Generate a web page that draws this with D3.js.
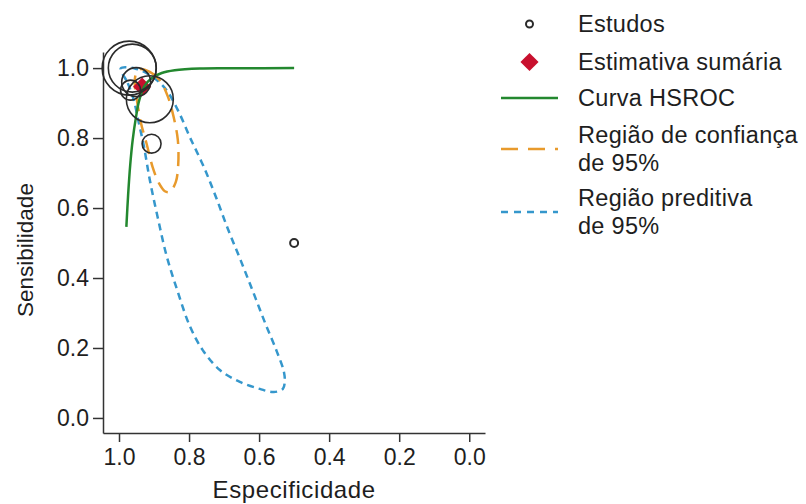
<!DOCTYPE html>
<html>
<head>
<meta charset="utf-8">
<script src="https://cdn.jsdelivr.net/npm/d3@7"></script>
<style>
  html, body { margin: 0; padding: 0; background: #ffffff; }
  svg { display: block; }
  text { font-family: "Liberation Sans", Arial, Helvetica, sans-serif; fill: #1e1e1e; }
</style>
</head>
<body>
<svg id="chart" width="806" height="504"></svg>
<script>
// Axis ticks
const specTicks = [1.0, 0.8, 0.6, 0.4, 0.2, 0.0];
const sensTicks = [0.0, 0.2, 0.4, 0.6, 0.8, 1.0];

// Individual studies (specificity, sensitivity, sample size)
const studySpec = [0.971, 0.962, 0.951, 0.967, 0.912, 0.907, 0.500];
const studySens = [1.000, 1.000, 0.960, 0.937, 0.911, 0.784, 0.500];
const studyN    = [365, 288, 105, 50, 276, 45, 8];

// Summary estimate
const summarySpec = 0.934;
const summarySens = 0.947;

// HSROC curve
const hsrocSpec = [0.979, 0.974, 0.968, 0.961, 0.952, 0.942, 0.927, 0.907, 0.878, 0.841, 0.769, 0.655, 0.500];
const hsrocSens = [0.546, 0.637, 0.723, 0.794, 0.857, 0.909, 0.949, 0.971, 0.986, 0.994, 0.999, 0.9995, 1.000];

// 95% confidence region
const confSpec = [0.941, 0.912, 0.884, 0.861, 0.844, 0.832, 0.831, 0.838, 0.855, 0.869, 0.886, 0.904, 0.921, 0.938, 0.949, 0.955, 0.952];
const confSens = [0.997, 0.989, 0.966, 0.920, 0.860, 0.794, 0.723, 0.674, 0.646, 0.648, 0.671, 0.717, 0.783, 0.846, 0.909, 0.954, 0.983];

// 95% prediction region
const predSpec = [0.995, 0.975, 0.958, 0.944, 0.929, 0.912, 0.889, 0.864, 0.832, 0.798, 0.761, 0.712, 0.655, 0.598, 0.558, 0.532, 0.527, 0.529, 0.549, 0.583, 0.617, 0.652, 0.689, 0.723, 0.755, 0.787, 0.798, 0.832, 0.869, 0.912, 0.955];
const predSens = [0.999, 0.957, 0.909, 0.846, 0.777, 0.680, 0.571, 0.463, 0.360, 0.263, 0.194, 0.137, 0.103, 0.083, 0.074, 0.083, 0.100, 0.131, 0.189, 0.272, 0.360, 0.449, 0.540, 0.631, 0.711, 0.780, 0.803, 0.880, 0.943, 0.980, 0.999];

// Legend entries
const legendLabels = [["Estudos"], ["Estimativa sumária"], ["Curva HSROC"], ["Região de confiança", "de 95%"], ["Região preditiva", "de 95%"]];

const colStudy = "#2b2b2b";
const colSummary = "#c8102e";
const colCurve = "#23882f";
const colConf = "#e89a2c";
const colPred = "#3597cc";

const svg = d3.select("#chart");

const x = d3.scaleLinear().domain([1.0457, -0.045]).range([103, 485]);
const y = d3.scaleLinear().domain([-0.043, 1.046]).range([433, 52]);
const r = d3.scaleSqrt().domain([0, d3.max(studyN)]).range([0, 27]);

const fmt = d3.format(".1f");

// Axes
const xAxis = svg.append("g")
  .attr("transform", `translate(0,${y.range()[0]})`)
  .call(d3.axisBottom(x).tickValues(specTicks).tickFormat(fmt).tickSize(9).tickSizeOuter(0).tickPadding(7));
const yAxis = svg.append("g")
  .attr("transform", `translate(${x.range()[0]},0)`)
  .call(d3.axisLeft(y).tickValues(sensTicks).tickFormat(fmt).tickSize(10).tickSizeOuter(0).tickPadding(4));

[xAxis, yAxis].forEach(g => {
  g.select(".domain").attr("stroke", "#333").attr("stroke-width", 1.5);
  g.selectAll(".tick line").attr("stroke", "#333").attr("stroke-width", 1.5);
  g.selectAll(".tick text").attr("font-size", 23).attr("fill", "#1e1e1e")
    .style("font-family", "'Liberation Sans', Arial, Helvetica, sans-serif");
});

// Axis titles
svg.append("text")
  .attr("x", x(0.5)).attr("y", 498)
  .attr("text-anchor", "middle").attr("font-size", 24).attr("letter-spacing", 0.6)
  .text("Especificidade");
svg.append("text")
  .attr("transform", `translate(33,${y(0.5) + 7}) rotate(-90)`)
  .attr("text-anchor", "middle").attr("font-size", 22.5)
  .text("Sensibilidade");

const plot = svg.append("g");

// Prediction region
const predPts = predSpec.map((s, i) => [x(s), y(predSens[i])]);
plot.append("path")
  .attr("d", d3.line().curve(d3.curveCatmullRomClosed.alpha(0.5))(predPts))
  .attr("fill", "none").attr("stroke", colPred).attr("stroke-width", 2.5)
  .attr("stroke-dasharray", "7,5");

// Confidence region
const confPts = confSpec.map((s, i) => [x(s), y(confSens[i])]);
plot.append("path")
  .attr("d", d3.line().curve(d3.curveCatmullRomClosed.alpha(0.5))(confPts))
  .attr("fill", "none").attr("stroke", colConf).attr("stroke-width", 2.5)
  .attr("stroke-dasharray", "14,8");

// Summary estimate
const diamond = d3.symbol().type(d3.symbolSquare).size(165);
plot.append("path")
  .attr("d", diamond())
  .attr("transform", `translate(${x(summarySpec)},${y(summarySens)}) rotate(45)`)
  .attr("fill", colSummary);

// HSROC curve
const curvePts = hsrocSpec.map((s, i) => [x(s), y(hsrocSens[i])]);
plot.append("path")
  .attr("d", d3.line().curve(d3.curveCatmullRom.alpha(0.5))(curvePts))
  .attr("fill", "none").attr("stroke", colCurve).attr("stroke-width", 2.5);

// Studies
plot.selectAll("circle.study")
  .data(studySpec.map((s, i) => ({ spec: s, sens: studySens[i], n: studyN[i] })))
  .join("circle")
  .attr("class", "study")
  .attr("cx", d => x(d.spec)).attr("cy", d => y(d.sens)).attr("r", d => r(d.n))
  .attr("fill", "none").attr("stroke", colStudy)
  .attr("stroke-width", d => r(d.n) < 6 ? 2 : 1.6);

// Legend
const legend = svg.append("g");
const keyX0 = 501, keyX1 = 558, keyMid = 529.5, textX = 578;
const rowY = [24, 62, 98, 149, 212];

legend.append("circle").attr("cx", keyMid).attr("cy", rowY[0]).attr("r", 3.5)
  .attr("fill", "none").attr("stroke", colStudy).attr("stroke-width", 2);
legend.append("path").attr("d", diamond())
  .attr("transform", `translate(${keyMid},${rowY[1]}) rotate(45)`).attr("fill", colSummary);
legend.append("line").attr("x1", keyX0).attr("x2", keyX1).attr("y1", rowY[2]).attr("y2", rowY[2])
  .attr("stroke", colCurve).attr("stroke-width", 2.5);
legend.append("line").attr("x1", keyX0).attr("x2", keyX1).attr("y1", rowY[3]).attr("y2", rowY[3])
  .attr("stroke", colConf).attr("stroke-width", 2.5).attr("stroke-dasharray", "17,10");
legend.append("line").attr("x1", keyX0).attr("x2", keyX1).attr("y1", rowY[4]).attr("y2", rowY[4])
  .attr("stroke", colPred).attr("stroke-width", 2.5).attr("stroke-dasharray", "7,6");

const lh = 27.5;
legendLabels.forEach((lines, i) => {
  const first = rowY[i] - (lines.length - 1) * lh / 2;
  lines.forEach((ln, j) => {
    legend.append("text")
      .attr("x", textX).attr("y", first + j * lh).attr("dy", "0.35em")
      .attr("font-size", 23.5).attr("letter-spacing", 0.3)
      .text(ln);
  });
});
</script>
</body>
</html>
